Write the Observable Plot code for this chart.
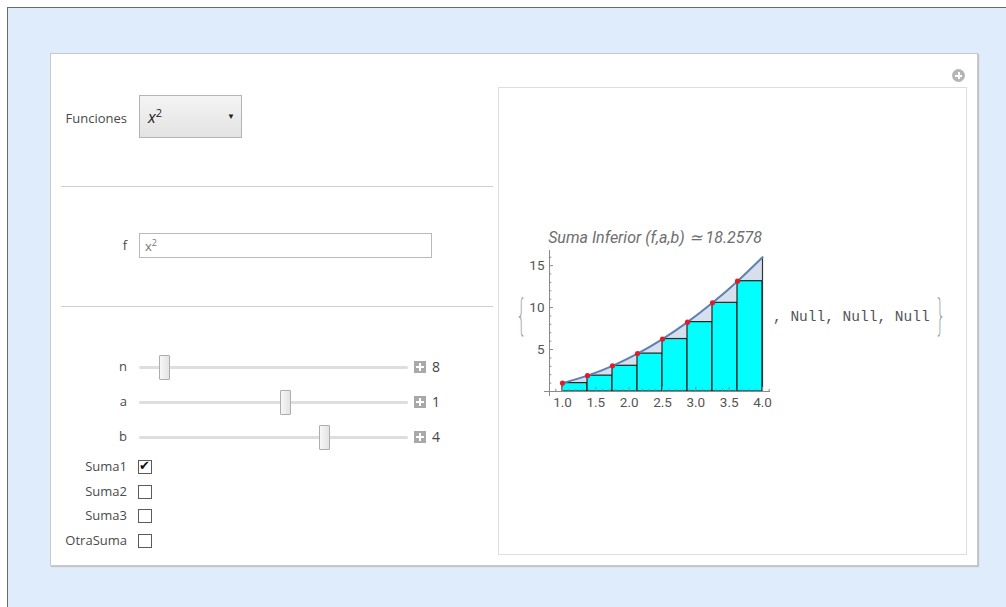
<!DOCTYPE html>
<html><head><meta charset="utf-8">
<script src="https://cdn.jsdelivr.net/npm/d3@7"></script>
<script src="https://cdn.jsdelivr.net/npm/@observablehq/plot@0.6"></script>
<style>
html,body{margin:0;padding:0;width:1006px;height:607px;overflow:hidden;background:#fff;font-family:"Open Sans","Noto Sans",sans-serif;color:#444;}
.abs{position:absolute;}
#outer{left:7px;top:7px;width:1020px;height:620px;background:#deecfc;border-left:1.5px solid #6a6a6a;border-top:1.5px solid #6a6a6a;}
#panel{left:50px;top:53px;width:926px;height:511px;background:#fff;border:1px solid #c9c9c9;box-shadow:1px 1px 1px #c4c4c4;}
#frame{left:498px;top:87px;width:467px;height:466px;border:1.5px solid #dedede;background:#fff;}
#addbtn{left:952px;top:69px;width:13px;height:13px;border-radius:50%;background:#b5b5b5;}
#addbtn:before{content:"";position:absolute;left:3px;top:5.5px;width:7px;height:2px;background:#fff;}
#addbtn:after{content:"";position:absolute;left:5.5px;top:3px;width:2px;height:7px;background:#fff;}
.lbl{font-size:13px;color:#4a4a4a;text-align:right;width:80px;line-height:16px;}
.sep{left:61px;width:432px;height:1px;background:#cfcfcf;}
#dd{left:139px;top:95px;width:101px;height:41px;background:linear-gradient(#f4f4f4,#e3e3e3);border:1px solid #b4b4b4;}
#ddtxt{left:8px;top:9px;font-size:16px;color:#222;}
#ddarr{left:87px;top:14px;font-size:8px;color:#222;}
#finput{left:139px;top:233px;width:291px;height:23px;border:1px solid #b9b9b9;background:#fff;}
#ftxt{left:5px;top:2px;font-size:13px;color:#777;}
.track{left:139px;width:269px;height:3px;background:#dedede;border-radius:2px;}
.thumb{width:9px;height:23px;background:linear-gradient(90deg,#f7f7f7,#e3e3e3);border:1px solid #adadad;border-radius:1px;}
.plus{width:12px;height:12px;background:#a9a9a9;}
.plus:before{content:"";position:absolute;left:2px;top:5px;width:8px;height:2px;background:#fff;}
.plus:after{content:"";position:absolute;left:5px;top:2px;width:2px;height:8px;background:#fff;}
.val{font-size:14px;color:#444;line-height:16px;}
.cb{left:138px;width:12px;height:12px;border:1px solid #5a5a5a;background:#fff;}
.cbm{position:absolute;left:0px;top:-3px;font-size:13px;color:#111;font-family:"DejaVu Sans";}
#title{left:515px;top:228px;width:280px;text-align:center;font-family:Roboto,"Liberation Sans",sans-serif;font-style:italic;font-size:16px;color:#6e6e6e;white-space:nowrap;}
.brace{font-family:"DejaVu Sans";font-weight:200;font-size:42px;color:#a5a5a5;line-height:42px;transform:scaleX(0.4);transform-origin:left top;}
#nulls{left:773px;top:309px;font-family:"Liberation Mono","DejaVu Sans Mono",monospace;font-size:14.5px;color:#555;white-space:nowrap;}
#chart{left:520px;top:245px;}
</style></head><body>
<div id="outer" class="abs"></div>
<div id="panel" class="abs"></div>
<div id="frame" class="abs"></div>
<div id="addbtn" class="abs"></div>

<div class="abs lbl" style="left:47px;top:110px;">Funciones</div>
<div id="dd" class="abs"><div id="ddtxt" class="abs"><i>x</i><sup style="font-size:11px;">2</sup></div><div id="ddarr" class="abs">&#9660;</div></div>
<div class="abs sep" style="top:186px;"></div>
<div class="abs lbl" style="left:47px;top:237px;">f</div>
<div id="finput" class="abs"><div id="ftxt" class="abs">x<sup style="font-size:9px;">2</sup></div></div>
<div class="abs sep" style="top:306px;"></div>

<div id="controls"></div>

<div id="title" class="abs">Suma Inferior (<i>f</i>,a,b) ≃ 18.2578</div>
<div class="abs brace" style="left:516px;top:295px;">{</div>
<div class="abs brace" style="left:935px;top:295px;">}</div>
<div id="nulls" class="abs">, Null, Null, Null</div>
<div id="chart" class="abs"></div>

<script>
// ---- data ----
const sliderNames = ["n", "a", "b"];
const sliderValues = ["8", "1", "4"];
const sliderThumbFrac = [0.094, 0.544, 0.688];
const checkNames = ["Suma1", "Suma2", "Suma3", "OtraSuma"];
const checkStates = [true, false, false, false];

const barLeft = [1, 1.375, 1.75, 2.125, 2.5, 2.875, 3.25, 3.625];
const barRight = [1.375, 1.75, 2.125, 2.5, 2.875, 3.25, 3.625, 4];
const barHeight = [1, 1.890625, 3.0625, 4.515625, 6.25, 8.265625, 10.5625, 13.140625];
const curveX = [1, 1.375, 1.75, 2.125, 2.5, 2.875, 3.25, 3.625, 4];
const curveY = [1, 1.890625, 3.0625, 4.515625, 6.25, 8.265625, 10.5625, 13.140625, 16];
const xTicks = [1, 1.5, 2, 2.5, 3, 3.5, 4];
const xMinorTicks = [0.9, 1.1, 1.2, 1.3, 1.4, 1.6, 1.7, 1.8, 1.9, 2.1, 2.2, 2.3, 2.4, 2.6, 2.7, 2.8, 2.9, 3.1, 3.2, 3.3, 3.4, 3.6, 3.7, 3.8, 3.9, 4.1];
const yTicks = [5, 10, 15];
const yMinorTicks = [1, 2, 3, 4, 6, 7, 8, 9, 11, 12, 13, 14, 16];

// ---- controls ----
const ctl = document.getElementById("controls");
const sliderY = [367, 402, 437];
sliderNames.forEach((nm, i) => {
  const y = sliderY[i];
  ctl.insertAdjacentHTML("beforeend",
    `<div class="abs lbl" style="left:47px;top:${y-9}px;">${nm}</div>
     <div class="abs track" style="top:${y-1}px;"></div>
     <div class="abs thumb" style="left:${139 + sliderThumbFrac[i]*269 - 5}px;top:${y-12}px;"></div>
     <div class="abs plus" style="left:414px;top:${y-6}px;"></div>
     <div class="abs val" style="left:432px;top:${y-8}px;">${sliderValues[i]}</div>`);
});
const checkY = [467, 492, 516, 541];
checkNames.forEach((nm, i) => {
  const y = checkY[i];
  ctl.insertAdjacentHTML("beforeend",
    `<div class="abs lbl" style="left:47px;top:${y-9}px;">${nm}</div>
     <div class="abs cb" style="top:${y-7}px;">${checkStates[i] ? '<span class="cbm">✔</span>' : ''}</div>`);
});

// ---- chart ----
const bars = barLeft.map((l, i) => ({x1: l, x2: barRight[i], y: barHeight[i]}));
const curve = curveX.map((x, i) => ({x, y: curveY[i]}));
const pts = barLeft.map((x, i) => ({x, y: barHeight[i]}));
const axisColor = "#8a8a8a";
const blue = "#5e81b5";

const chart = Plot.plot({
  width: 260,
  height: 175,
  marginLeft: 29,
  marginRight: 10,
  marginTop: 5,
  marginBottom: 29,
  x: {domain: [0.805, 4.12], axis: null},
  y: {domain: [0, 16.8], axis: null},
  style: {fontFamily: "Roboto, 'Liberation Sans', sans-serif", fontSize: "13px", color: "#555", background: "transparent", overflow: "visible"},
  marks: [
    Plot.areaY(curve, {x: "x", y: "y", curve: "natural", fill: blue, fillOpacity: 0.25}),
    Plot.rectY(bars, {x1: "x1", x2: "x2", y: "y", fill: "#00ffff", stroke: "#222", strokeWidth: 1.2}),
    Plot.ruleX([barRight[barRight.length - 1]], {y1: 0, y2: curveY[curveY.length - 1], stroke: "#333", strokeWidth: 1.2}),
    Plot.line(curve, {x: "x", y: "y", curve: "natural", stroke: blue, strokeWidth: 2}),
    Plot.dot(pts, {x: "x", y: "y", r: 2.6, fill: "#e31a2a", stroke: "none"}),
    // axes
    Plot.ruleY([0], {x1: 0.73, x2: 4.12, stroke: axisColor, strokeWidth: 1}),
    Plot.ruleX([0.805], {y1: -0.6, y2: 16.8, stroke: axisColor, strokeWidth: 1}),
    Plot.ruleX(xTicks, {x: d => d, y1: 0, y2: 0.5, stroke: axisColor}),
    Plot.ruleX(xMinorTicks, {x: d => d, y1: 0, y2: 0.26, stroke: axisColor}),
    Plot.ruleY(yTicks, {y: d => d, x1: 0.805, x2: 0.865, stroke: axisColor}),
    Plot.ruleY(yMinorTicks, {y: d => d, x1: 0.805, x2: 0.84, stroke: axisColor}),
    Plot.axisX({ticks: xTicks, tickSize: 0, tickPadding: 6, tickFormat: d3.format(".1f"), fill: "#555", fontSize: 13.5, label: null}),
    Plot.axisY({ticks: yTicks, tickSize: 0, tickPadding: 5, tickFormat: d => d, fill: "#555", fontSize: 13.5, anchor: "left", label: null})
  ]
});
document.getElementById("chart").appendChild(chart);
</script>
</body></html>
